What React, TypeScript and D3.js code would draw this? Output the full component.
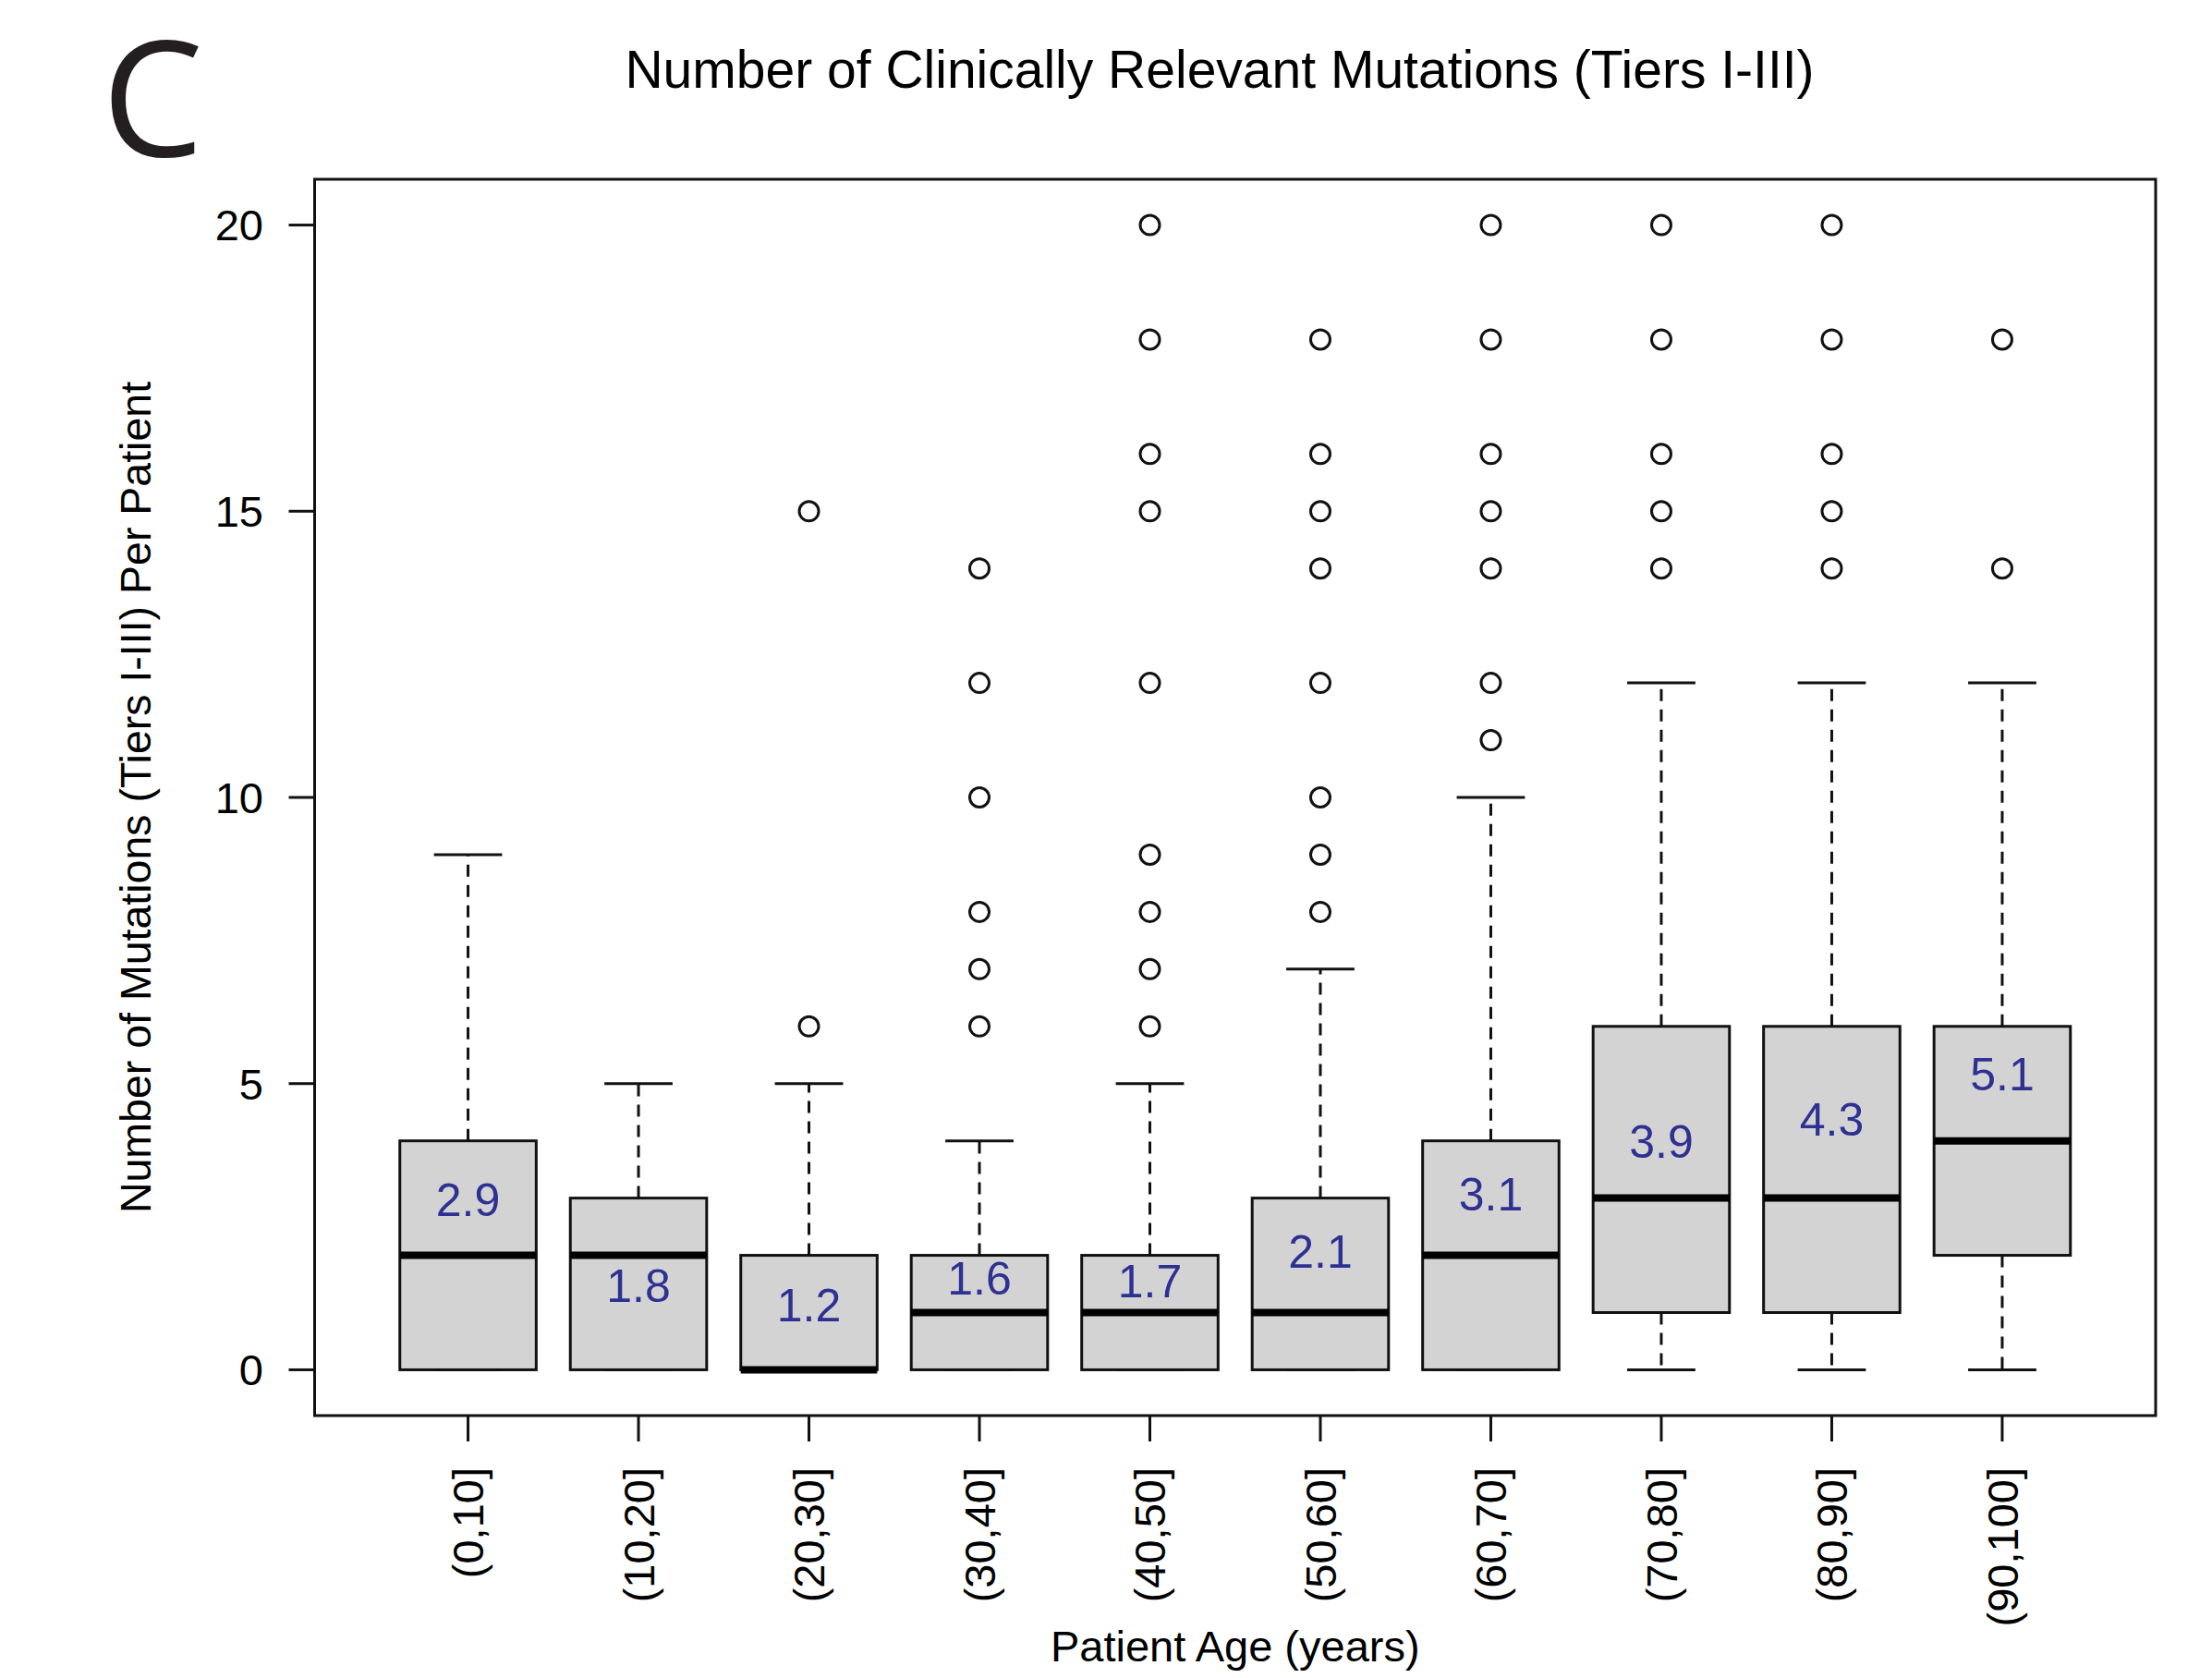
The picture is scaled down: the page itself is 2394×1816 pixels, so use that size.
import React from "react";
import * as d3 from "d3";

const categories = ["(0,10]", "(10,20]", "(20,30]", "(30,40]", "(40,50]", "(50,60]", "(60,70]", "(70,80]", "(80,90]", "(90,100]"];
const lowerWhisker = [0, 0, 0, 0, 0, 0, 0, 0, 0, 0];
const q1 = [0, 0, 0, 0, 0, 0, 0, 1, 1, 2];
const medians = [2, 2, 0, 1, 1, 1, 2, 3, 3, 4];
const q3 = [4, 3, 2, 2, 2, 3, 4, 6, 6, 6];
const upperWhisker = [9, 5, 5, 4, 5, 7, 10, 12, 12, 12];
const outliers: number[][] = [
  [],
  [],
  [6, 15],
  [6, 7, 8, 10, 12, 14],
  [6, 7, 8, 9, 12, 15, 16, 18, 20],
  [8, 9, 10, 12, 14, 15, 16, 18],
  [11, 12, 14, 15, 16, 18, 20],
  [14, 15, 16, 18, 20],
  [14, 15, 16, 18, 20],
  [14, 18],
];
const meanLabels = ["2.9", "1.8", "1.2", "1.6", "1.7", "2.1", "3.1", "3.9", "4.3", "5.1"];
const meanLabelY = [2.97, 1.48, 1.14, 1.6, 1.56, 2.07, 3.07, 3.99, 4.38, 5.17];
const yTicks = [0, 5, 10, 15, 20];

const W = 2394;
const H = 1816;
const plot = { left: 340.5, right: 2333, top: 194, bottom: 1532 };
const FONT = "'Liberation Sans', Arial, Helvetica, sans-serif";
const INK = "#111";

export default function App() {
  const x = d3.scaleLinear().domain([0.1, categories.length + 0.9]).range([plot.left, plot.right]);
  const y = d3.scaleLinear().domain([-0.8, 20.8]).range([plot.bottom, plot.top]);
  const boxHalf = 0.4;
  const capHalf = 0.2;
  const boxPx = x(1 + boxHalf) - x(1);
  const capPx = x(1 + capHalf) - x(1);

  return (
    <svg
      width={W}
      height={H}
      viewBox={`0 0 ${W} ${H}`}
      style={{ position: "absolute", left: 0, top: 0, background: "#fff" }}
    >
      <rect x={0} y={0} width={W} height={H} fill="#fff" />
      {/* Panel letter */}
      <text x={110} y={169} fontFamily="'Open Sans', sans-serif" fontSize={175} fill="#231f20">
        C
      </text>
      {/* Title */}
      <text x={1320} y={95} textAnchor="middle" fontFamily={FONT} fontSize={57} fill="#000">
        Number of Clinically Relevant Mutations (Tiers I-III)
      </text>

      {/* Boxes */}
      {categories.map((c, i) => {
        const cx = x(i + 1);
        return (
          <g key={c}>
            <line x1={cx} x2={cx} y1={y(q3[i])} y2={y(upperWhisker[i])} stroke={INK} strokeWidth={3} strokeDasharray="13 9" />
            <line x1={cx} x2={cx} y1={y(q1[i])} y2={y(lowerWhisker[i])} stroke={INK} strokeWidth={3} strokeDasharray="13 9" />
            <line x1={cx - capPx} x2={cx + capPx} y1={y(upperWhisker[i])} y2={y(upperWhisker[i])} stroke={INK} strokeWidth={3} />
            <line x1={cx - capPx} x2={cx + capPx} y1={y(lowerWhisker[i])} y2={y(lowerWhisker[i])} stroke={INK} strokeWidth={3} />
            <rect
              x={cx - boxPx}
              y={y(q3[i])}
              width={boxPx * 2}
              height={Math.max(0, y(q1[i]) - y(q3[i]))}
              fill="#d3d3d3"
              stroke={INK}
              strokeWidth={3}
            />
            <line x1={cx - boxPx} x2={cx + boxPx} y1={y(medians[i])} y2={y(medians[i])} stroke="#000" strokeWidth={8} />
            {outliers[i].map((v, j) => (
              <circle key={j} cx={cx} cy={y(v)} r={10.5} fill="none" stroke={INK} strokeWidth={3} />
            ))}
            <text
              x={cx}
              y={y(meanLabelY[i])}
              dy="0.36em"
              textAnchor="middle"
              fontFamily={FONT}
              fontSize={50}
              fill="#2e3192"
            >
              {meanLabels[i]}
            </text>
          </g>
        );
      })}

      {/* Plot frame */}
      <rect
        x={plot.left}
        y={plot.top}
        width={plot.right - plot.left}
        height={plot.bottom - plot.top}
        fill="none"
        stroke={INK}
        strokeWidth={3}
      />

      {/* Y axis */}
      {yTicks.map((t) => (
        <g key={t}>
          <line x1={plot.left - 28} x2={plot.left} y1={y(t)} y2={y(t)} stroke={INK} strokeWidth={3} />
          <text x={285} y={y(t)} dy="0.36em" textAnchor="end" fontFamily={FONT} fontSize={47} fill="#000">
            {t}
          </text>
        </g>
      ))}

      {/* X axis */}
      {categories.map((c, i) => {
        const cx = x(i + 1);
        return (
          <g key={c}>
            <line x1={cx} x2={cx} y1={plot.bottom} y2={plot.bottom + 28} stroke={INK} strokeWidth={3} />
            <text
              transform={`translate(${cx},1588) rotate(-90)`}
              dy="0.36em"
              textAnchor="end"
              fontFamily={FONT}
              fontSize={47}
              fill="#000"
            >
              {c}
            </text>
          </g>
        );
      })}

      {/* Axis titles */}
      <text
        x={(plot.left + plot.right) / 2}
        y={1798}
        textAnchor="middle"
        fontFamily={FONT}
        fontSize={47}
        fill="#000"
      >
        Patient Age (years)
      </text>
      <text
        transform={`translate(163,${(plot.top + plot.bottom) / 2}) rotate(-90)`}
        textAnchor="middle"
        fontFamily={FONT}
        fontSize={46.5}
        fill="#000"
      >
        Number of Mutations (Tiers I-III) Per Patient
      </text>
    </svg>
  );
}
